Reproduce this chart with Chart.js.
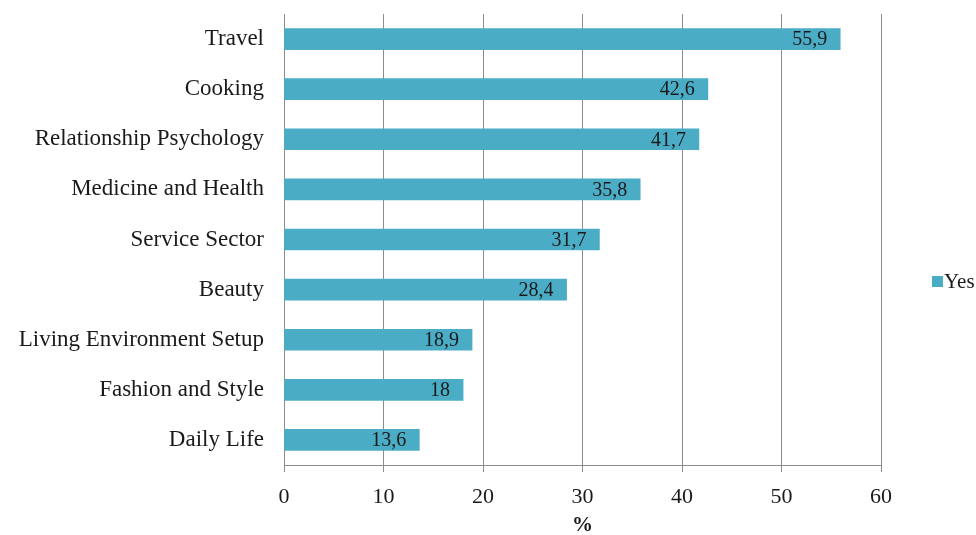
<!DOCTYPE html>
<html><head><meta charset="utf-8">
<script src="https://cdn.jsdelivr.net/npm/chart.js@4/dist/chart.umd.min.js"></script>
<style>html,body{margin:0;padding:0;background:#fff}#wrap{width:976px;height:535px}</style>
</head><body><div id="wrap"><canvas id="c" width="976" height="535"></canvas></div>
<script>
const categories = ["Travel","Cooking","Relationship Psychology","Medicine and Health","Service Sector","Beauty","Living Environment Setup","Fashion and Style","Daily Life"];
const yesValues = [55.9,42.6,41.7,35.8,31.7,28.4,18.9,18,13.6];
const xTicks = [0,10,20,30,40,50,60];
const seriesName = "Yes";
const axisTitle = "%";

const FONT = "'Liberation Serif','Times New Roman',serif";
const TXT = "#1a1a1a";
const labelPlugin = {
  id:'vals',
  afterDatasetsDraw(chart){
    const ctx = chart.ctx;
    const meta = chart.getDatasetMeta(0);
    ctx.save();
    ctx.font = "20px " + FONT;
    ctx.fillStyle = TXT;
    ctx.textAlign = "right";
    ctx.textBaseline = "middle";
    meta.data.forEach((bar,i)=>{
      const txt = String(yesValues[i]).replace('.',',');
      ctx.fillText(txt, bar.x - 13, bar.y + 1);
    });
    ctx.restore();
  }
};
const legendPlugin = {
  id:'sideLegend',
  afterDraw(chart){
    const ctx = chart.ctx;
    const ds = chart.data.datasets[0];
    const cy = (chart.chartArea.top + chart.chartArea.bottom)/2 + 41.5;
    ctx.save();
    ctx.fillStyle = ds.backgroundColor;
    ctx.fillRect(932, cy - 5, 11, 11);
    ctx.font = "21px " + FONT;
    ctx.fillStyle = TXT;
    ctx.textAlign = "left";
    ctx.textBaseline = "middle";
    ctx.fillText(ds.label, 944, cy + 1);
    ctx.restore();
  }
};
new Chart(document.getElementById('c'),{
  type:'bar',
  data:{labels:categories,datasets:[{label:seriesName,data:yesValues,backgroundColor:'#4BACC6',borderWidth:0,barThickness:21}]},
  options:{
    indexAxis:'y',responsive:false,animation:false,
    layout:{padding:{top:14,left:0,right:95,bottom:0}},
    plugins:{legend:{display:false},tooltip:{enabled:false}},
    scales:{
      x:{min:0,max:60,afterBuildTicks(a){a.ticks=xTicks.map(v=>({value:v}));},
        afterFit(s){s.height=70;},
        grid:{color:'#8c8c8c',lineWidth:1,tickLength:7,drawTicks:true},
        border:{color:'#8c8c8c'},
        ticks:{font:{family:FONT,size:22},color:TXT,padding:12},
        title:{display:true,text:axisTitle,font:{family:FONT,size:21,weight:'bold'},color:TXT,padding:{top:6,bottom:-3}}},
      y:{grid:{display:false,drawTicks:false},border:{color:'#8c8c8c'},
        afterFit(s){s.width=284;s.paddingTop=0;s.paddingBottom=0;},
        ticks:{font:{family:FONT,size:23},color:TXT,padding:20}}
    }
  },
  plugins:[labelPlugin,legendPlugin]
});
</script></body></html>
